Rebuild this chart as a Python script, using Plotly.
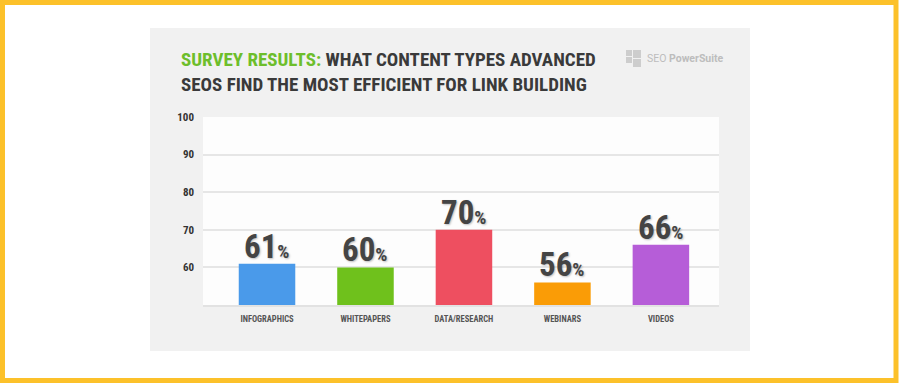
import plotly.graph_objects as go

categories = ["INFOGRAPHICS", "WHITEPAPERS", "DATA/RESEARCH", "WEBINARS", "VIDEOS"]
values = [61, 60, 70, 56, 66]
y_ticks = [60, 70, 80, 90, 100]
y_tick_labels = ["60", "70", "80", "90", "100"]

bar_colors = ["#4A9AEA", "#6FC11C", "#EE4F60", "#FA9C06", "#B65DD8"]

COND = "Liberation Sans Narrow, Roboto Condensed, DejaVu Sans Condensed, Arial Narrow, sans-serif"

W, H = 900, 383
ML, MR, MT, MB = 203, 181, 117, 78
PW, PH = W - ML - MR, H - MT - MB


def px(x):
    return (x - ML) / PW


def py(y):
    return (H - MB - y) / PH


fig = go.Figure()
fig.add_trace(go.Bar(
    x=categories,
    y=values,
    marker=dict(color=bar_colors, line=dict(width=0)),
    width=0.574,
    hoverinfo="skip",
))

shapes = [
    # gray card
    dict(type="rect", xref="paper", yref="paper", layer="below",
         x0=px(150), x1=px(750), y0=py(351), y1=py(28),
         fillcolor="#F1F1F1", line=dict(width=0)),
    # white plot panel
    dict(type="rect", xref="paper", yref="paper", layer="below",
         x0=0, x1=1, y0=0, y1=1,
         fillcolor="#FDFDFD", line=dict(width=0)),
    # yellow frame
    dict(type="rect", xref="paper", yref="paper", layer="above",
         x0=px(2.5), x1=px(896), y0=py(380.5), y1=py(2.5),
         fillcolor="rgba(0,0,0,0)", line=dict(width=5, color="#FCC12A")),
]
# logo icon squares
for (x0, y0, s) in [(626, 50, 6), (633, 50, 8), (626, 57, 6), (633, 59, 8)]:
    shapes.append(dict(type="rect", xref="paper", yref="paper", layer="above",
                       x0=px(x0), x1=px(x0 + s), y0=py(y0 + s), y1=py(y0),
                       fillcolor="#CDCDCD", line=dict(width=0)))

annotations = [
    dict(xref="paper", yref="paper", x=px(179), y=py(46), xanchor="left", yanchor="top",
         align="left", showarrow=False,
         text="<b><span style='color:#6DBE2B'>SURVEY RESULTS:</span> WHAT CONTENT TYPES ADVANCED</b><br>"
              "<b>SEOS FIND THE MOST EFFICIENT FOR LINK BUILDING</b>",
         font=dict(family=COND, size=19, color="#3A3A3A")),
    dict(xref="paper", yref="paper", x=px(645), y=py(58.5), xanchor="left", yanchor="middle",
         showarrow=False,
         text="SEO <b>PowerSuite</b>",
         font=dict(family="Roboto, sans-serif", size=10.5, color="#BDBDBD")),
]
# value labels above bars, positioned by the axes from the data
for c, v in zip(categories, values):
    annotations.append(dict(
        xref="x", yref="y", x=c, y=v, xanchor="center", yanchor="bottom",
        showarrow=False, borderpad=0, yshift=-3,
        text=f"<b>{v}</b><span style='font-size:19px'><b>%</b></span>",
        font=dict(family=COND, size=33, color="#444444",
                  shadow="1px 1px 2px rgba(0,0,0,0.25)"),
    ))

fig.update_layout(
    width=W, height=H,
    margin=dict(l=ML, r=MR, t=MT, b=MB, pad=0),
    paper_bgcolor="#FFFFFF",
    plot_bgcolor="#FDFDFD",
    showlegend=False,
    shapes=shapes,
    annotations=annotations,
    xaxis=dict(
        range=[-0.65, 4.59],
        showgrid=False, zeroline=False,
        showline=True, linecolor="#E2E2E2", linewidth=2,
        ticks="", tickfont=dict(family=COND, size=8.5, color="#555555", weight="bold"),
        ticklabelstandoff=5,
        fixedrange=True,
    ),
    yaxis=dict(
        range=[50, 100],
        tickvals=y_ticks, ticktext=y_tick_labels,
        showgrid=True, gridcolor="#E6E6E6", gridwidth=1.5,
        zeroline=False, showline=False, ticks="",
        tickfont=dict(family=COND, size=11, color="#333333", weight="bold"),
        ticklabelstandoff=8,
        fixedrange=True,
    ),
)

fig.write_html("out.html", config={"displayModeBar": False},
               post_script="document.body.style.margin='0';document.body.style.overflow='hidden';")
